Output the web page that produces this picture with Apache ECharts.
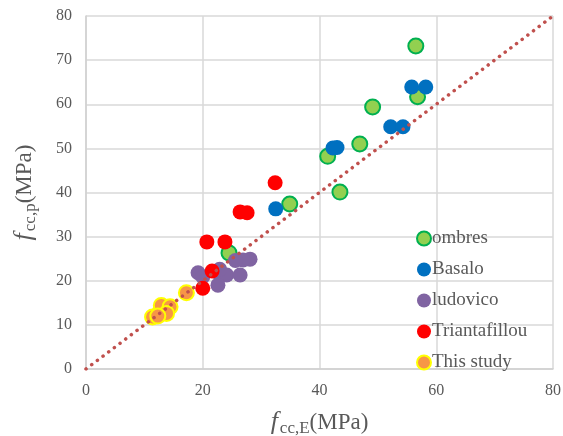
<!DOCTYPE html>
<html>
<head>
<meta charset="utf-8">
<script src="https://cdn.jsdelivr.net/npm/echarts@6/dist/echarts.min.js"></script>
<style>
html,body{margin:0;padding:0;background:#fff;}
#c{width:563px;height:436px;}
</style>
</head>
<body>
<div id="c"></div>
<script>
var seriesNames = ['ombres', 'Basalo', 'ludovico', 'Triantafillou', 'This study'];
var ombres = [[56.5,73.2],[56.8,61.7],[49.1,59.4],[46.9,51.0],[41.4,48.2],[43.5,40.1],[34.9,37.4],[24.5,26.3]];
var basalo = [[55.8,63.9],[58.2,63.9],[52.2,54.9],[54.3,54.9],[42.3,50.1],[43.0,50.2],[32.5,36.3]];
var ludovico = [[28.1,24.9],[26.9,24.7],[25.6,24.6],[19.2,21.8],[20.0,20.9],[22.6,21.8],[24.1,21.3],[26.4,21.3],[22.6,19.0],[22.9,22.6]];
var triantafillou = [[32.4,42.2],[26.4,35.6],[27.6,35.4],[20.7,28.8],[23.8,28.8],[21.6,22.2],[20.0,18.3]];
var thisStudy = [[17.2,17.3],[11.4,11.8],[12.7,13.0],[12.9,14.4],[14.4,14.1],[13.8,12.6],[12.3,12.0]];
var equality = [[0,0],[80,80]];
var xTicks = [0,20,40,60,80];
var yTicks = [0,10,20,30,40,50,60,70,80];

var serif = '"Liberation Serif","Times New Roman",serif';
var grey = '#595959';
var chart = echarts.init(document.getElementById('c'));

function sc(name, data, fill, border, bw) {
  return {
    name: name, type: 'scatter', data: data, symbol: 'circle', symbolSize: 15,
    itemStyle: {color: fill, borderColor: border, borderWidth: bw, opacity: 1}
  };
}

chart.setOption({
  animation: false,
  backgroundColor: '#fff',
  grid: {left: 86, right: 10, top: 16, bottom: 67, containLabel: false, outerBoundsMode: 'none'},
  xAxis: {
    type: 'value', min: 0, max: 80, interval: 20,
    axisLine: {show: true, lineStyle: {color: '#D0D0D0', width: 1.5}},
    axisTick: {show: false},
    splitLine: {show: true, lineStyle: {color: '#D9D9D9', width: 1.5}},
    axisLabel: {fontFamily: serif, fontSize: 16, color: grey, margin: 14,
      formatter: function(v){ return xTicks.indexOf(v) >= 0 ? String(v) : ''; }},
    name: '{i|f}{s|cc,E}{n|(MPa)}',
    nameLocation: 'middle', nameGap: 39,
    nameTextStyle: {
      rich: {
        i: {fontFamily: serif, fontStyle: 'italic', fontSize: 26, color: grey, padding: [0,2,0,0]},
        s: {fontFamily: serif, fontSize: 17, color: grey, padding: [12,0,0,0]},
        n: {fontFamily: serif, fontSize: 23, color: grey}
      }
    }
  },
  yAxis: {
    type: 'value', min: 0, max: 80, interval: 10,
    axisLine: {show: true, lineStyle: {color: '#D0D0D0', width: 1.5}},
    axisTick: {show: false},
    splitLine: {show: true, lineStyle: {color: '#D9D9D9', width: 1.5}},
    axisLabel: {fontFamily: serif, fontSize: 16, color: grey, margin: 14,
      formatter: function(v){ return yTicks.indexOf(v) >= 0 ? String(v) : ''; }},
    name: '{i|f}{s|cc,p}{n|(MPa)}',
    nameLocation: 'middle', nameGap: 47, nameRotate: 90,
    nameTextStyle: {
      rich: {
        i: {fontFamily: serif, fontStyle: 'italic', fontSize: 26, color: grey, padding: [0,2,0,0]},
        s: {fontFamily: serif, fontSize: 17, color: grey, padding: [12,0,0,0]},
        n: {fontFamily: serif, fontSize: 23, color: grey}
      }
    }
  },
  legend: {
    orient: 'vertical', left: 411, top: 224,
    data: seriesNames,
    icon: 'circle', itemWidth: 14, itemHeight: 14, itemGap: 12,
    textStyle: {fontFamily: serif, fontSize: 19, color: grey, padding: [0,0,0,-4]}
  },
  series: [
    sc(seriesNames[0], ombres, '#92D050', '#00B050', 2),
    sc(seriesNames[1], basalo, '#0070C0', '#0070C0', 0),
    sc(seriesNames[2], ludovico, '#8064A2', '#8064A2', 0),
    sc(seriesNames[3], triantafillou, '#FF0000', '#FF0000', 0),
    sc(seriesNames[4], thisStudy, '#F79646', '#FFFF00', 2),
    {
      name: 'equality', type: 'line', data: equality, symbol: 'none', z: 5,
      lineStyle: {color: '#C0504D', width: 3.5, type: [0.1, 7], cap: 'round'},
      silent: true
    }
  ]
});
</script>
</body>
</html>
